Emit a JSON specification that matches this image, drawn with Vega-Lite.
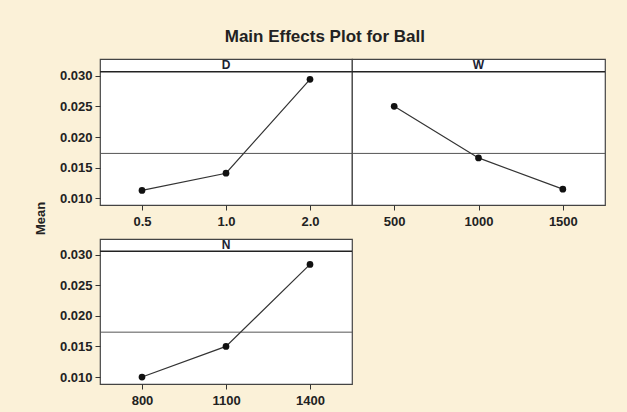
{
  "$schema": "https://vega.github.io/schema/vega-lite/v6.json",
  "background": "#FBF1D8",
  "padding": {"left": 33, "top": 28, "right": 21, "bottom": 5},
  "title": {"text": "Main Effects Plot for Ball", "fontSize": 17, "font": "Liberation Sans", "fontWeight": "bold", "color": "#222", "offset": 12, "anchor": "middle", "dx": 5},
  "config": {
    "view": {"stroke": "#444", "strokeWidth": 1.2, "fill": "white"},
    "axis": {"labelFont": "Liberation Sans", "labelFontWeight": "bold", "labelFontSize": 13, "labelColor": "#222", "tickColor": "#333", "tickSize": 5, "domain": false, "grid": false, "labelPadding": 3, "labelOverlap": false, "titleFont": "Liberation Sans"},
    "axisX": {"labelPadding": 5},
    "axisY": {"tickCount": 10}
  },
  "datasets": {
    "effects": [
      {"factor": "D", "level": "0.5", "mean": 0.0113},
      {"factor": "D", "level": "1.0", "mean": 0.0141},
      {"factor": "D", "level": "2.0", "mean": 0.0294},
      {"factor": "W", "level": "500", "mean": 0.0250},
      {"factor": "W", "level": "1000", "mean": 0.0166},
      {"factor": "W", "level": "1500", "mean": 0.0115},
      {"factor": "N", "level": "800", "mean": 0.0100},
      {"factor": "N", "level": "1100", "mean": 0.0150},
      {"factor": "N", "level": "1400", "mean": 0.0284}
    ],
    "grand": [{"grand": 0.01733}]
  },
  "vconcat": [
    {
      "hconcat": [
        {
          "width": 252, "height": 146,
          "layer": [
            {"data": {"name": "grand"}, "mark": {"type": "rule", "color": "#555", "strokeWidth": 1}, "encoding": {"y": {"field": "grand", "type": "quantitative", "scale": {"domain": [0.00892, 0.03272], "nice": false, "zero": false}}}},
            {"data": {"name": "grand"}, "mark": {"type": "rule", "color": "#222", "strokeWidth": 1.5}, "encoding": {"y": {"datum": 0.03065, "type": "quantitative"}}},
            {"data": {"name": "effects"}, "transform": [{"filter": "datum.factor === 'D'"}], "mark": {"type": "line", "color": "#333", "strokeWidth": 1.2}, "encoding": {"x": {"field": "level", "type": "ordinal", "sort": ["0.5", "1.0", "2.0"], "scale": {"type": "point", "padding": 0.5}, "axis": {"title": null, "labelAngle": 0}}, "y": {"field": "mean", "type": "quantitative", "axis": {"values": [0.010, 0.015, 0.020, 0.025, 0.030], "tickCount": 10, "labelExpr": "format(datum.value, '.3f')", "title": "Mean", "titleFontSize": 13, "titleFontWeight": "bold", "titleColor": "#222", "titleX": -53, "titleY": 159}}}},
            {"data": {"name": "effects"}, "transform": [{"filter": "datum.factor === 'D'"}], "mark": {"type": "point", "filled": true, "color": "#111", "size": 45, "opacity": 1}, "encoding": {"x": {"field": "level", "type": "ordinal", "sort": ["0.5", "1.0", "2.0"]}, "y": {"field": "mean", "type": "quantitative"}}},
            {"data": {"name": "effects"}, "transform": [{"filter": "datum.factor === 'D' && datum.level === '1.0'"}], "mark": {"type": "text", "font": "Liberation Sans", "fontWeight": "bold", "fontSize": 12, "color": "#1b2233", "baseline": "middle"}, "encoding": {"x": {"field": "level", "type": "ordinal", "sort": ["0.5", "1.0", "2.0"]}, "y": {"datum": 0.03168, "type": "quantitative"}, "text": {"field": "factor"}}}
          ]
        },
        {
          "width": 253, "height": 146,
          "layer": [
            {"data": {"name": "grand"}, "mark": {"type": "rule", "color": "#555", "strokeWidth": 1}, "encoding": {"y": {"field": "grand", "type": "quantitative", "scale": {"domain": [0.00892, 0.03272], "nice": false, "zero": false}, "axis": null}}},
            {"data": {"name": "grand"}, "mark": {"type": "rule", "color": "#222", "strokeWidth": 1.5}, "encoding": {"y": {"datum": 0.03065, "type": "quantitative"}}},
            {"data": {"name": "effects"}, "transform": [{"filter": "datum.factor === 'W'"}], "mark": {"type": "line", "color": "#333", "strokeWidth": 1.2}, "encoding": {"x": {"field": "level", "type": "ordinal", "sort": ["500", "1000", "1500"], "scale": {"type": "point", "padding": 0.5}, "axis": {"title": null, "labelAngle": 0}}, "y": {"field": "mean", "type": "quantitative"}}},
            {"data": {"name": "effects"}, "transform": [{"filter": "datum.factor === 'W'"}], "mark": {"type": "point", "filled": true, "color": "#111", "size": 45, "opacity": 1}, "encoding": {"x": {"field": "level", "type": "ordinal", "sort": ["500", "1000", "1500"]}, "y": {"field": "mean", "type": "quantitative"}}},
            {"data": {"name": "effects"}, "transform": [{"filter": "datum.factor === 'W' && datum.level === '1000'"}], "mark": {"type": "text", "font": "Liberation Sans", "fontWeight": "bold", "fontSize": 12, "color": "#1b2233", "baseline": "middle"}, "encoding": {"x": {"field": "level", "type": "ordinal", "sort": ["500", "1000", "1500"]}, "y": {"datum": 0.03168, "type": "quantitative"}, "text": {"field": "factor"}}}
          ]
        }
      ],
      "spacing": 0,
      "bounds": "flush",
      "resolve": {"scale": {"x": "independent", "y": "independent"}}
    },
    {
      "width": 252, "height": 145,
      "layer": [
        {"data": {"name": "grand"}, "mark": {"type": "rule", "color": "#555", "strokeWidth": 1}, "encoding": {"y": {"field": "grand", "type": "quantitative", "scale": {"domain": [0.00886, 0.03255], "nice": false, "zero": false}}}},
        {"data": {"name": "grand"}, "mark": {"type": "rule", "color": "#222", "strokeWidth": 1.5}, "encoding": {"y": {"datum": 0.03055, "type": "quantitative"}}},
        {"data": {"name": "effects"}, "transform": [{"filter": "datum.factor === 'N'"}], "mark": {"type": "line", "color": "#333", "strokeWidth": 1.2}, "encoding": {"x": {"field": "level", "type": "ordinal", "sort": ["800", "1100", "1400"], "scale": {"type": "point", "padding": 0.5}, "axis": {"title": null, "labelAngle": 0}}, "y": {"field": "mean", "type": "quantitative", "axis": {"values": [0.010, 0.015, 0.020, 0.025, 0.030], "tickCount": 10, "labelExpr": "format(datum.value, '.3f')", "title": null}}}},
        {"data": {"name": "effects"}, "transform": [{"filter": "datum.factor === 'N'"}], "mark": {"type": "point", "filled": true, "color": "#111", "size": 45, "opacity": 1}, "encoding": {"x": {"field": "level", "type": "ordinal", "sort": ["800", "1100", "1400"]}, "y": {"field": "mean", "type": "quantitative"}}},
        {"data": {"name": "effects"}, "transform": [{"filter": "datum.factor === 'N' && datum.level === '1100'"}], "mark": {"type": "text", "font": "Liberation Sans", "fontWeight": "bold", "fontSize": 12, "color": "#1b2233", "baseline": "middle"}, "encoding": {"x": {"field": "level", "type": "ordinal", "sort": ["800", "1100", "1400"]}, "y": {"datum": 0.03155, "type": "quantitative"}, "text": {"field": "factor"}}}
      ]
    }
  ],
  "spacing": 2,
  "resolve": {"scale": {"x": "independent", "y": "independent"}}
}
